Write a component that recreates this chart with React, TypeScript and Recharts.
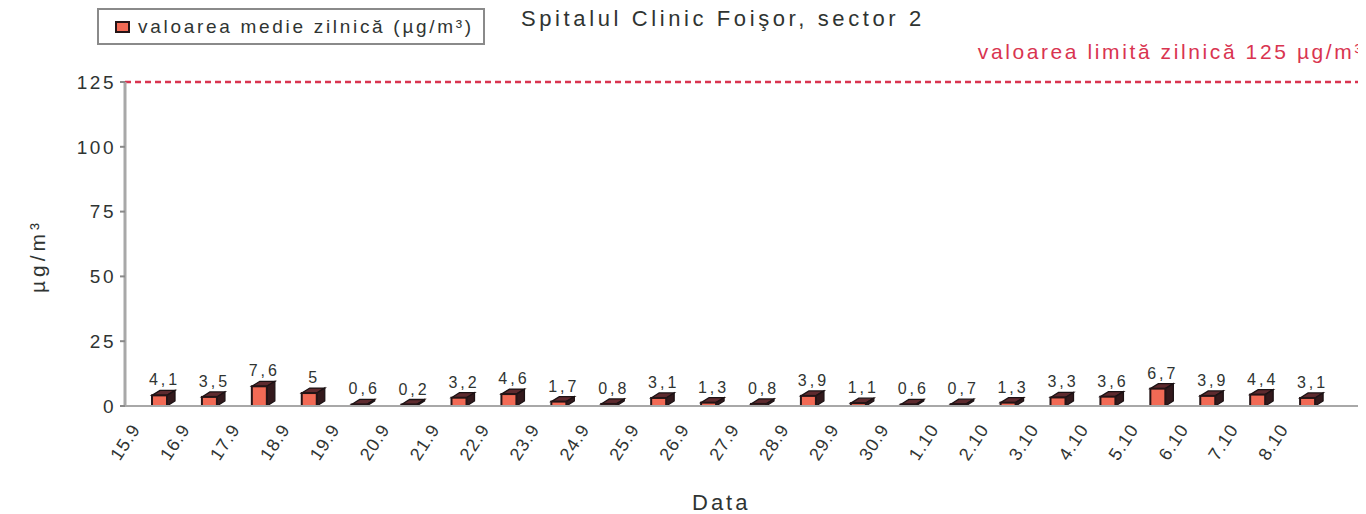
import React from 'react';
import {
  BarChart,
  Bar,
  XAxis,
  YAxis,
  ReferenceLine,
  LabelList
} from 'recharts';

// dates (day.month)
const dates = [
  '15.9', '16.9', '17.9', '18.9', '19.9', '20.9', '21.9', '22.9',
  '23.9', '24.9', '25.9', '26.9', '27.9', '28.9', '29.9', '30.9',
  '1.10', '2.10', '3.10', '4.10', '5.10', '6.10', '7.10', '8.10'
];

// daily mean, µg/m³
const dailyMean = [
  4.1, 3.5, 7.6, 5, 0.6, 0.2, 3.2, 4.6,
  1.7, 0.8, 3.1, 1.3, 0.8, 3.9, 1.1, 0.6,
  0.7, 1.3, 3.3, 3.6, 6.7, 3.9, 4.4, 3.1
];

const yTicks = [0, 25, 50, 75, 100, 125];
const dailyLimit = 125;

const data = dates.map((d, i) => ({ date: d, value: dailyMean[i] }));

const FONT = '"Liberation Sans", Arial, Helvetica, sans-serif';
const TEXT = '#2f3432';
const RED = '#d93450';

// front face + top + side, to get the old 3D look
const Box3D = (props: any) => {
  const { x, y, width, height } = props;
  const dx = 8;
  const dy = 5;
  const h = Math.max(height, 1.5);
  const top = y + height - h;
  return (
    <g>
      <polygon
        points={`${x},${top} ${x + dx},${top - dy} ${x + width + dx},${top - dy} ${x + width},${top}`}
        fill="#5e2a2e"
        stroke="#1c1214"
        strokeWidth={1.3}
      />
      <polygon
        points={`${x + width},${top} ${x + width + dx},${top - dy} ${x + width + dx},${top + h - dy} ${x + width},${top + h}`}
        fill="#33191c"
        stroke="#1c1214"
        strokeWidth={1.3}
      />
      <rect x={x} y={top} width={width} height={h} fill="#f26a55" stroke="#241416" strokeWidth={2} />
    </g>
  );
};

const DateTick = (props: any) => {
  const { x, y, payload } = props;
  return (
    <g transform={`translate(${x - 19},${y + 15})`}>
      <text
        x={0}
        y={0}
        textAnchor="end"
        transform="rotate(-57)"
        fill={TEXT}
        fontSize={18}
        letterSpacing={1}
        fontFamily={FONT}
      >
        {payload.value}
      </text>
    </g>
  );
};

const ValueLabel = (props: any) => {
  const { x, y, width, value } = props;
  return (
    <text
      x={x + width / 2 + 5}
      y={y - 10}
      textAnchor="middle"
      fill={TEXT}
      fontSize={16}
      letterSpacing={3}
      fontFamily={FONT}
    >
      {String(value).replace('.', ',')}
    </text>
  );
};

const App = () => {
  return (
    <div style={{ position: 'relative', width: 1358, height: 506, fontFamily: FONT }}>
      <BarChart
        width={1358}
        height={506}
        data={data}
        margin={{ top: 74, right: 6, left: 57, bottom: 48 }}
      >
        <XAxis
          dataKey="date"
          tick={<DateTick />}
          tickLine={false}
          axisLine={{ stroke: '#a8a8a8', strokeWidth: 2 }}
          height={60}
          interval={0}
          padding={{ left: 10, right: 27 }}
        />
        <YAxis
          domain={[0, 125]}
          ticks={yTicks}
          width={60}
          tickMargin={4}
          tickSize={5}
          tick={{ fill: TEXT, fontSize: 19, fontFamily: FONT, letterSpacing: 2.5 }}
          tickLine={{ stroke: '#8a8a8a', strokeWidth: 2 }}
          axisLine={{ stroke: '#a8a8a8', strokeWidth: 3 }}
          allowDataOverflow
        />
        <ReferenceLine
          y={dailyLimit}
          stroke={RED}
          strokeWidth={2.5}
          strokeDasharray="6 4"
          label={(p: any) => (
            <text
              x={p.viewBox.x + p.viewBox.width + 4}
              y={p.viewBox.y - 23}
              textAnchor="end"
              fill={RED}
              fontSize={21}
              letterSpacing={2.6}
              fontFamily={FONT}
            >
              valoarea limită zilnică 125 µg/m³
            </text>
          )}
        />
        <Bar
          dataKey="value"
          barSize={15}
          shape={<Box3D />}
          isAnimationActive={false}
        >
          <LabelList dataKey="value" content={<ValueLabel />} />
        </Bar>
      </BarChart>

      {/* legend box */}
      <div
        style={{
          position: 'absolute',
          left: 89,
          top: 0,
          width: 384,
          height: 33,
          border: '2px solid #8a8a8a',
          background: '#fff',
          display: 'flex',
          alignItems: 'center',
          boxSizing: 'content-box'
        }}
      >
        <span
          style={{
            display: 'inline-block',
            width: 11,
            height: 8,
            background: '#f26a55',
            border: '2px solid #241416',
            marginLeft: 16,
            marginRight: 8
          }}
        />
        <span style={{ fontSize: 19, color: TEXT, letterSpacing: 2.7, whiteSpace: 'nowrap' }}>
          valoarea medie zilnică (µg/m³)
        </span>
      </div>

      {/* title */}
      <div
        style={{
          position: 'absolute',
          left: 513,
          top: -2,
          fontSize: 22,
          color: TEXT,
          letterSpacing: 3.6,
          whiteSpace: 'nowrap'
        }}
      >
        Spitalul Clinic Foişor, sector 2
      </div>

      {/* y axis title */}
      <div
        style={{
          position: 'absolute',
          left: -20,
          top: 236,
          width: 100,
          textAlign: 'center',
          fontSize: 21,
          color: TEXT,
          letterSpacing: 4,
          transform: 'rotate(-90deg)'
        }}
      >
        µg/m³
      </div>

      {/* x axis title */}
      <div
        style={{
          position: 'absolute',
          left: 684,
          top: 482,
          fontSize: 22,
          color: TEXT,
          letterSpacing: 3
        }}
      >
        Data
      </div>
    </div>
  );
};

export default App;
